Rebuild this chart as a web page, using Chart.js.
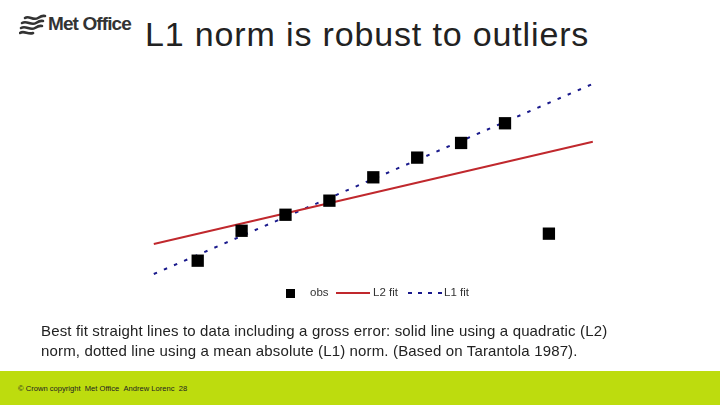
<!DOCTYPE html>
<html>
<head>
<meta charset="utf-8">
<script src="https://cdn.jsdelivr.net/npm/chart.js@4"></script>
<style>
  html, body { margin:0; padding:0; background:#fff; }
  body { width:720px; height:405px; position:relative; overflow:hidden; font-family:"Liberation Sans", Arial, sans-serif; }
  #chartWrap { position:absolute; left:0; top:0; width:720px; height:405px; }
  #title { position:absolute; left:145px; top:15px; font-size:34px; color:#222; white-space:nowrap; letter-spacing:0.85px; }
  #logo { position:absolute; left:19px; top:14px; height:22px; }
  #logoText { position:absolute; left:48px; top:13px; font-size:19px; font-weight:bold; color:#333; letter-spacing:-0.9px; white-space:nowrap; }
  #caption { position:absolute; left:41px; top:321px; font-size:15px; line-height:20px; color:#222; white-space:nowrap; letter-spacing:0.15px; }
  #footer { position:absolute; left:0; top:371px; width:720px; height:34px; background:#bddc0e; }
  #footText { position:absolute; left:18px; top:384px; font-size:7.6px; color:#222; white-space:nowrap; }
  #legend { position:absolute; top:285px; left:0; font-size:11.5px; color:#333; }
  .lg { position:absolute; white-space:nowrap; }
</style>
</head>
<body>
<svg id="logo" width="28" height="22" viewBox="0 0 28 22">
  <g fill="none" stroke="#333" stroke-width="2.6" stroke-linecap="round">
    <path d="M6 4 C10 1, 14 7, 19 4 S24 2, 26 2"/>
    <path d="M3 9 C8 6, 12 12, 17 9 S22 7, 24 7"/>
    <path d="M2 14 C7 11, 11 17, 16 14 S21 12, 23 12"/>
    <path d="M1 19 C5 16, 9 21, 14 19"/>
  </g>
</svg>
<div id="logoText">Met Office</div>
<div id="title">L1 norm is robust to outliers</div>
<div id="chartWrap"><canvas id="c" width="720" height="405"></canvas></div>
<div id="legend">
  <div class="lg" style="left:286px;top:4px;width:9px;height:9px;background:#000;"></div>
  <div class="lg" style="left:310px;top:1px;">obs</div>
  <div class="lg" style="left:336px;top:7px;width:34px;height:1.5px;background:#c0282d;"></div>
  <div class="lg" style="left:373px;top:1px;">L2 fit</div>
  <div class="lg" style="left:408px;top:7px;width:34px;height:1.5px;background:repeating-linear-gradient(to right,#1a1a8c 0 4px,transparent 4px 10px);"></div>
  <div class="lg" style="left:444px;top:1px;">L1 fit</div>
</div>
<div id="caption">Best fit straight lines to data including a gross error: solid line using a quadratic (L2)<br>norm, dotted line using a mean absolute (L1) norm. (Based on Tarantola 1987).</div>
<div id="footer"></div>
<div id="footText">© Crown copyright &nbsp;Met Office &nbsp;Andrew Lorenc &nbsp;28</div>
<script>
// Observations (x = 1..9), last point is the gross error (outlier)
const obsX = [1, 2, 3, 4, 5, 6, 7, 8, 9];
const obsY = [0.69, 2.24, 3.07, 3.80, 5.01, 6.03, 6.79, 7.81, 2.09];
// Fitted straight lines, end points
const fitX = [0, 10];
const l2Y = [1.55, 6.85];
const l1Y = [0.0, 9.85];

const obsData = obsX.map((x, i) => ({ x: x, y: obsY[i] }));
const l2Data = fitX.map((x, i) => ({ x: x, y: l2Y[i] }));
const l1Data = fitX.map((x, i) => ({ x: x, y: l1Y[i] }));

new Chart(document.getElementById('c'), {
  type: 'scatter',
  data: {
    datasets: [
      { label: 'L2 fit', type: 'line', data: l2Data, borderColor: '#c0282d', borderWidth: 2, pointRadius: 0, fill: false, clip: false, order: 2 },
      { label: 'L1 fit', type: 'line', data: l1Data, borderColor: '#1a1a8c', borderWidth: 2, borderDash: [3.5, 7.5], pointRadius: 0, fill: false, clip: false, order: 3 },
      { label: 'obs', data: obsData, pointStyle: 'rect', pointRadius: 8.7, pointBorderWidth: 0, backgroundColor: '#000', borderColor: '#000', clip: false, order: 1 }
    ]
  },
  options: {
    responsive: false,
    animation: false,
    events: [],
    layout: { padding: { left: 153.8, right: 127.2, top: 81, bottom: 131 } },
    plugins: { legend: { display: false }, tooltip: { enabled: false }, title: { display: false } },
    scales: {
      x: { type: 'linear', min: 0, max: 10, display: false },
      y: { type: 'linear', min: 0, max: 10, display: false }
    }
  }
});
</script>
</body>
</html>
